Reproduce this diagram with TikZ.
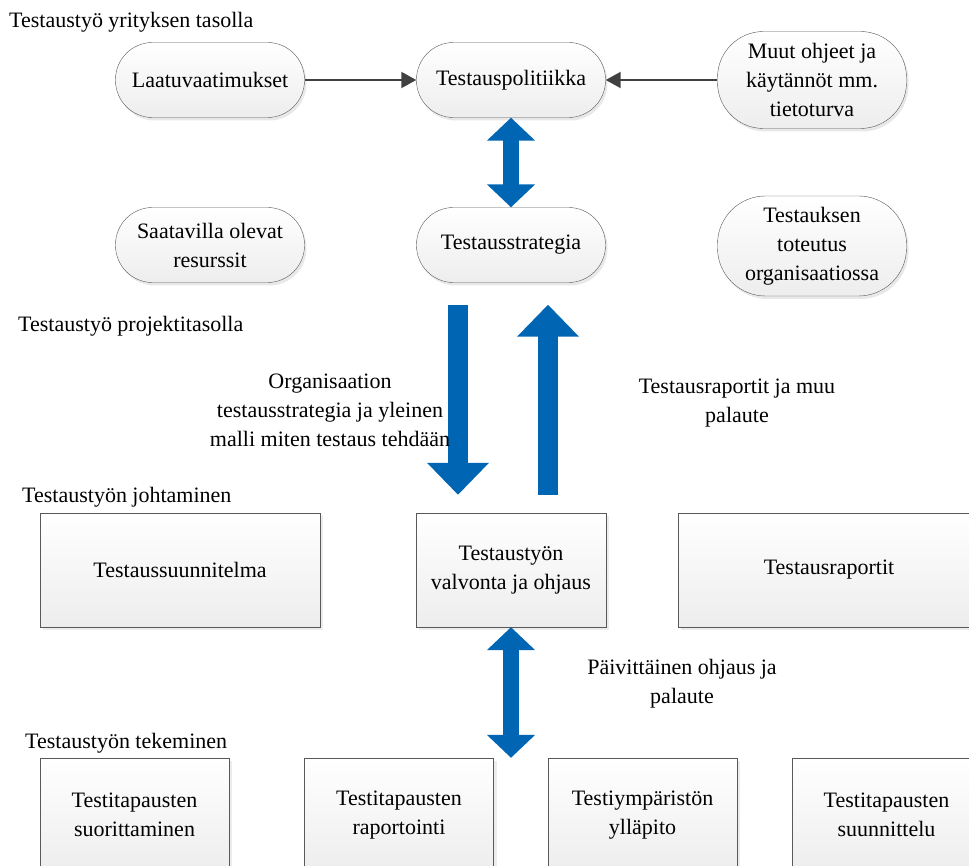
\documentclass[tikz,border=0pt]{standalone}
\usepackage{fontspec}
\setmainfont{Liberation Serif}
\usepackage{xcolor}
\usetikzlibrary{arrows.meta,shadows}
\definecolor{arrowblue}{RGB}{0,101,179}
\definecolor{linegray}{RGB}{64,64,64}
\tikzset{
	pill/.style={rectangle,rounded corners=37pt,draw=black!65,top color=white,bottom color=gray!14,
		minimum width=189pt,minimum height=75pt,align=center,inner sep=2pt,
		drop shadow={shadow xshift=2pt,shadow yshift=-3pt,fill=gray!35}},
	box/.style={rectangle,draw=black!65,top color=white,bottom color=gray!14,
		minimum height=114pt,align=center,
		drop shadow={shadow xshift=3pt,shadow yshift=-3pt,fill=gray!30}},
	level/.style={anchor=base west,inner sep=0pt},
	note/.style={align=center},
	thinarrow/.style={draw=linegray,line width=2pt,-{Triangle[length=15pt,width=16pt]}},
	bigarrow/.style={draw=arrowblue,line width=20pt,-{Triangle[length=32pt,width=60pt]}},
	dblarrow/.style={draw=arrowblue,line width=16pt,{Triangle[length=23pt,width=47pt]}-{Triangle[length=23pt,width=47pt]}}
}
\begin{document}
\begin{tikzpicture}[x=1pt,y=-1pt,font=\fontsize{22}{29}\selectfont]
			\useasboundingbox (0,0) rectangle (969,866);
			
			\node[level] (lvlcomp) at (9,28) {Testaustyö yrityksen tasolla};
			\node[level] (lvlproj) at (18,332) {Testaustyö projektitasolla};
			\node[level] (lvllead) at (22,502) {Testaustyön johtaminen};
			\node[level] (lvlwork) at (25,748) {Testaustyön tekeminen};
			
			\node[pill] (laatu) at (210,80) {Laatuvaatimukset};
			\node[pill] (polit) at (511,80) {Testauspolitiikka};
			\node[pill,rounded corners=46pt,minimum height=97pt] (muut) at (812,80) {Muut ohjeet ja\\käytännöt mm.\\tietoturva};
			\node[pill] (resurs) at (210,245) {Saatavilla olevat\\resurssit};
			\node[pill] (strat) at (511,245) {Testausstrategia};
			\node[pill,rounded corners=48pt,minimum height=100pt] (toteut) at (812,246) {Testauksen\\toteutus\\organisaatiossa};
			
			\draw[thinarrow] (laatu) -- (polit);
			\draw[thinarrow] (muut) -- (polit);
			\draw[dblarrow] (polit.south) -- (strat.north);
			
			\node[box,minimum width=280pt] (suunn) at (180,570) {Testaussuunnitelma};
			\node[box,minimum width=190pt] (valv) at (511,570) {Testaustyön\\valvonta ja ohjaus};
			\node[box,minimum width=302pt] (rapt) at (829,570) {Testausraportit};
			
			\draw[bigarrow,shorten <=22pt,shorten >=18pt] ([xshift=-53pt]strat.south) -- ([xshift=-53pt]valv.north);
			\draw[bigarrow,shorten <=18pt,shorten >=22pt] ([xshift=37pt]valv.north) -- ([xshift=37pt]strat.south);
			
			\node[note] (orgtxt) at (330,410) {Organisaation\\testausstrategia ja yleinen\\malli miten testaus tehdään};
			\node[note] (raptxt) at (737,403) {Testausraportit ja muu\\palaute};
			
			\foreach \name/\x/\txt in {suor/134.5/{Testitapausten\\suorittaminen},
				rapo/399/{Testitapausten\\raportointi},
				ymp/642.5/{Testiympäristön\\ylläpito},
				suun/886.5/{Testitapausten\\suunnittelu}}
			\node[box,minimum width=189pt] (\name) at (\x,815) {\txt};
			
			\draw[dblarrow] (valv.south) -- (valv.south |- rapo.north);
			\node[note] (dailytxt) at (682,684) {Päivittäinen ohjaus ja\\palaute};
\end{tikzpicture}
\end{document}
